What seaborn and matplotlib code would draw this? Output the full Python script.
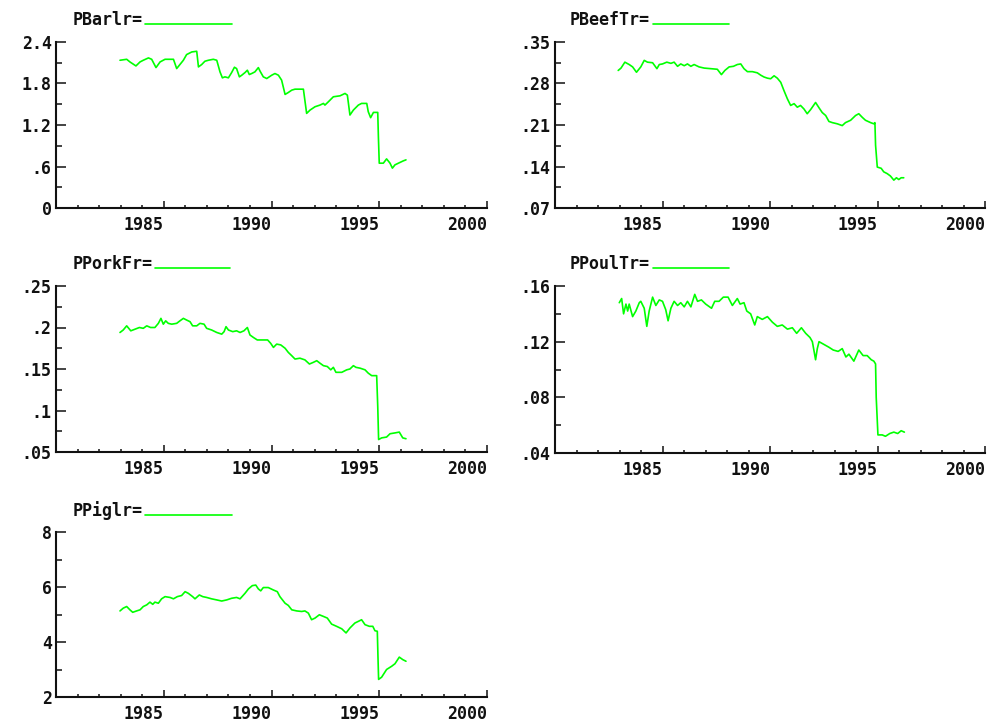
import matplotlib
matplotlib.use("Agg")
import matplotlib.pyplot as plt
import matplotlib.transforms as mtransforms
from matplotlib.ticker import MultipleLocator, FixedLocator
import seaborn as sns
import pandas as pd

# ---------------- data ----------------
barl_year = [1982.97, 1983.28, 1983.43, 1983.71, 1983.90, 1984.05, 1984.29, 1984.44, 1984.64, 1984.83,
             1985.06, 1985.45, 1985.52, 1985.60, 1985.75, 1985.91, 1986.06, 1986.30, 1986.53, 1986.61,
             1986.76, 1986.91, 1987.07, 1987.30, 1987.46, 1987.61, 1987.72, 1987.84, 1988.00, 1988.15,
             1988.28, 1988.38, 1988.51, 1988.62, 1988.77, 1988.88, 1988.97, 1989.08, 1989.23, 1989.39,
             1989.47, 1989.62, 1989.78, 1990.01, 1990.16, 1990.32, 1990.47, 1990.63, 1990.78, 1990.94,
             1991.09, 1991.48, 1991.63, 1991.79, 1992.02, 1992.25, 1992.41, 1992.48, 1992.64, 1992.87,
             1993.18, 1993.41, 1993.52, 1993.64, 1993.80, 1994.03, 1994.18, 1994.42, 1994.49, 1994.60,
             1994.73, 1994.93, 1994.96, 1995.00, 1995.19, 1995.34, 1995.50, 1995.61, 1995.73, 1995.89,
             1996.12, 1996.24]
barl_val = [2.136, 2.150, 2.112, 2.054, 2.112, 2.136, 2.170, 2.150, 2.030, 2.112,
            2.150, 2.150, 2.088, 2.016, 2.074, 2.136, 2.218, 2.256, 2.266, 2.040,
            2.074, 2.122, 2.136, 2.150, 2.136, 1.968, 1.882, 1.896, 1.882, 1.958,
            2.035, 2.016, 1.896, 1.920, 1.958, 1.992, 1.930, 1.944, 1.968, 2.030,
            1.978, 1.896, 1.872, 1.920, 1.944, 1.920, 1.848, 1.642, 1.670, 1.704,
            1.718, 1.718, 1.368, 1.416, 1.464, 1.488, 1.512, 1.488, 1.536, 1.608,
            1.622, 1.656, 1.632, 1.344, 1.416, 1.488, 1.512, 1.512, 1.392, 1.306,
            1.382, 1.382, 1.032, 0.648, 0.648, 0.710, 0.648, 0.576, 0.624, 0.648,
            0.682, 0.696]

beef_year = [1982.94, 1983.07, 1983.25, 1983.45, 1983.61, 1983.79, 1983.99, 1984.15, 1984.30, 1984.54,
             1984.74, 1984.85, 1985.00, 1985.20, 1985.39, 1985.54, 1985.70, 1985.85, 1986.01, 1986.16,
             1986.32, 1986.47, 1986.70, 1986.94, 1987.25, 1987.55, 1987.74, 1987.90, 1988.10, 1988.30,
             1988.48, 1988.64, 1988.79, 1988.95, 1989.18, 1989.41, 1989.57, 1989.72, 1989.88, 1990.03,
             1990.19, 1990.34, 1990.50, 1990.65, 1990.81, 1990.96, 1991.12, 1991.27, 1991.42, 1991.58,
             1991.73, 1991.89, 1992.12, 1992.28, 1992.43, 1992.59, 1992.74, 1992.90, 1993.13, 1993.36,
             1993.51, 1993.75, 1993.98, 1994.13, 1994.29, 1994.44, 1994.68, 1994.83, 1994.88, 1994.91,
             1994.99, 1995.17, 1995.29, 1995.45, 1995.60, 1995.76, 1995.88, 1995.99, 1996.10, 1996.22]
beef_val = [0.302, 0.306, 0.316, 0.312, 0.308, 0.299, 0.308, 0.319, 0.316, 0.315,
            0.305, 0.312, 0.313, 0.316, 0.314, 0.316, 0.309, 0.313, 0.310, 0.313,
            0.309, 0.312, 0.308, 0.306, 0.305, 0.304, 0.295, 0.302, 0.308, 0.309,
            0.312, 0.313, 0.305, 0.300, 0.300, 0.298, 0.294, 0.291, 0.289, 0.288,
            0.293, 0.289, 0.282, 0.268, 0.254, 0.243, 0.246, 0.240, 0.243, 0.237,
            0.229, 0.236, 0.248, 0.239, 0.231, 0.226, 0.216, 0.214, 0.212, 0.209,
            0.214, 0.218, 0.226, 0.229, 0.223, 0.218, 0.214, 0.212, 0.214, 0.176,
            0.139, 0.137, 0.131, 0.128, 0.124, 0.117, 0.121, 0.118, 0.121, 0.121]

pork_year = [1982.97, 1983.12, 1983.28, 1983.47, 1983.67, 1983.87, 1984.05, 1984.21, 1984.39, 1984.59,
             1984.75, 1984.87, 1984.98, 1985.09, 1985.21, 1985.37, 1985.60, 1985.75, 1985.91, 1986.06,
             1986.22, 1986.34, 1986.53, 1986.68, 1986.87, 1986.99, 1987.22, 1987.46, 1987.69, 1987.80,
             1987.89, 1988.00, 1988.20, 1988.38, 1988.54, 1988.72, 1988.88, 1989.00, 1989.16, 1989.34,
             1989.59, 1989.82, 1989.96, 1990.09, 1990.24, 1990.43, 1990.63, 1990.78, 1990.94, 1991.09,
             1991.32, 1991.55, 1991.76, 1991.94, 1992.10, 1992.25, 1992.41, 1992.59, 1992.75, 1992.87,
             1992.99, 1993.26, 1993.49, 1993.64, 1993.80, 1993.92, 1994.11, 1994.34, 1994.49, 1994.65,
             1994.88, 1994.93, 1994.97, 1995.11, 1995.34, 1995.50, 1995.73, 1995.93, 1996.09, 1996.24]
pork_val = [0.194, 0.197, 0.202, 0.196, 0.198, 0.200, 0.199, 0.202, 0.200, 0.200,
            0.205, 0.211, 0.204, 0.208, 0.205, 0.204, 0.205, 0.208, 0.211, 0.209,
            0.207, 0.202, 0.202, 0.205, 0.204, 0.199, 0.197, 0.194, 0.192, 0.195,
            0.201, 0.197, 0.195, 0.196, 0.194, 0.196, 0.200, 0.191, 0.188, 0.185,
            0.185, 0.185, 0.181, 0.176, 0.180, 0.179, 0.175, 0.170, 0.166, 0.162,
            0.163, 0.161, 0.156, 0.158, 0.160, 0.157, 0.154, 0.153, 0.149, 0.152,
            0.146, 0.146, 0.149, 0.150, 0.154, 0.152, 0.151, 0.149, 0.145, 0.142,
            0.142, 0.105, 0.065, 0.067, 0.068, 0.072, 0.073, 0.074, 0.067, 0.066]

poul_year = [1982.99, 1983.10, 1983.19, 1983.30, 1983.38, 1983.45, 1983.61, 1983.76, 1983.92, 1983.99,
             1984.15, 1984.27, 1984.38, 1984.54, 1984.69, 1984.85, 1985.00, 1985.15, 1985.26, 1985.39,
             1985.54, 1985.70, 1985.85, 1986.01, 1986.16, 1986.32, 1986.50, 1986.63, 1986.81, 1987.01,
             1987.28, 1987.43, 1987.63, 1987.83, 1988.05, 1988.25, 1988.48, 1988.61, 1988.79, 1988.92,
             1989.10, 1989.29, 1989.41, 1989.64, 1989.88, 1990.11, 1990.34, 1990.57, 1990.81, 1991.04,
             1991.24, 1991.46, 1991.66, 1991.86, 1991.97, 1992.04, 1992.12, 1992.20, 1992.28, 1992.51,
             1992.74, 1992.94, 1993.17, 1993.36, 1993.53, 1993.67, 1993.90, 1994.13, 1994.33, 1994.52,
             1994.71, 1994.83, 1994.91, 1994.94, 1995.02, 1995.22, 1995.37, 1995.57, 1995.76, 1995.94,
             1996.10, 1996.25]
poul_val = [0.148, 0.151, 0.140, 0.147, 0.142, 0.147, 0.138, 0.142, 0.148, 0.149,
            0.144, 0.131, 0.142, 0.152, 0.146, 0.150, 0.149, 0.143, 0.135, 0.144,
            0.149, 0.146, 0.148, 0.145, 0.149, 0.145, 0.154, 0.149, 0.150, 0.147,
            0.144, 0.149, 0.149, 0.152, 0.152, 0.146, 0.151, 0.147, 0.148, 0.142,
            0.140, 0.132, 0.138, 0.136, 0.138, 0.134, 0.131, 0.132, 0.129, 0.130,
            0.126, 0.130, 0.126, 0.123, 0.120, 0.114, 0.107, 0.115, 0.120, 0.118,
            0.116, 0.114, 0.113, 0.115, 0.109, 0.111, 0.106, 0.114, 0.110, 0.110,
            0.107, 0.106, 0.104, 0.080, 0.053, 0.053, 0.052, 0.054, 0.055, 0.054,
            0.056, 0.055]

pig_year = [1982.97, 1983.12, 1983.28, 1983.43, 1983.56, 1983.74, 1983.90, 1984.05, 1984.21, 1984.36,
            1984.49, 1984.59, 1984.75, 1984.90, 1985.06, 1985.29, 1985.45, 1985.63, 1985.83, 1985.99,
            1986.14, 1986.34, 1986.45, 1986.65, 1986.81, 1986.99, 1987.22, 1987.46, 1987.69, 1987.92,
            1988.15, 1988.38, 1988.54, 1988.77, 1988.93, 1989.11, 1989.27, 1989.39, 1989.50, 1989.62,
            1989.85, 1990.09, 1990.27, 1990.39, 1990.63, 1990.78, 1990.94, 1991.17, 1991.40, 1991.55,
            1991.71, 1991.86, 1992.02, 1992.22, 1992.41, 1992.59, 1992.79, 1993.02, 1993.26, 1993.46,
            1993.64, 1993.87, 1994.08, 1994.18, 1994.34, 1994.54, 1994.70, 1994.80, 1994.91, 1994.94,
            1994.97, 1995.11, 1995.34, 1995.58, 1995.73, 1995.93, 1996.09, 1996.24]
pig_val = [5.13, 5.23, 5.29, 5.17, 5.08, 5.13, 5.17, 5.29, 5.35, 5.45,
           5.37, 5.45, 5.41, 5.57, 5.65, 5.62, 5.57, 5.65, 5.69, 5.83,
           5.77, 5.65, 5.57, 5.71, 5.65, 5.62, 5.57, 5.53, 5.49, 5.53,
           5.59, 5.62, 5.57, 5.77, 5.93, 6.05, 6.07, 5.93, 5.86, 5.98,
           5.98, 5.89, 5.83, 5.65, 5.41, 5.33, 5.17, 5.13, 5.11, 5.13,
           5.05, 4.81, 4.87, 4.99, 4.93, 4.87, 4.65, 4.57, 4.48, 4.33,
           4.51, 4.69, 4.77, 4.81, 4.63, 4.57, 4.57, 4.41, 4.39, 3.48,
           2.64, 2.72, 3.00, 3.12, 3.21, 3.45, 3.36, 3.30]

series_names = ["PBarlr=", "PBeefTr=", "PPorkFr=", "PPoulTr=", "PPiglr="]

x_ticks = [1985, 1990, 1995, 2000]
x_ticklabels = ["1985", "1990", "1995", "2000"]

barl_yticks = [0, 0.6, 1.2, 1.8, 2.4]
barl_ylabels = ["0", ".6", "1.2", "1.8", "2.4"]
beef_yticks = [0.07, 0.14, 0.21, 0.28, 0.35]
beef_ylabels = [".07", ".14", ".21", ".28", ".35"]
pork_yticks = [0.05, 0.10, 0.15, 0.20, 0.25]
pork_ylabels = [".05", ".1", ".15", ".2", ".25"]
poul_yticks = [0.04, 0.08, 0.12, 0.16]
poul_ylabels = [".04", ".08", ".12", ".16"]
pig_yticks = [2, 4, 6, 8]
pig_ylabels = ["2", "4", "6", "8"]

# ---------------- style ----------------
sns.set_style("ticks")
plt.rcParams["font.family"] = ["DejaVu Sans Mono", "DejaVu Sans"]
plt.rcParams["font.weight"] = "bold"

GREEN = "#00ff00"
INK = "#111111"
FS = 12
W, H = 993, 722

fig = plt.figure(figsize=(W / 100, H / 100), dpi=100)


def rect(left, top, right, bottom):
    return [left / W, 1 - bottom / H, (right - left) / W, (bottom - top) / H]


panels = [
    (series_names[0], barl_year, barl_val, rect(56, 42, 487, 208), barl_yticks, barl_ylabels, 0.039, 5.2),
    (series_names[1], beef_year, beef_val, rect(555, 42, 985, 208), beef_yticks, beef_ylabels, 0.035, 4.6),
    (series_names[2], pork_year, pork_val, rect(56, 286, 487, 452), pork_yticks, pork_ylabels, 0.039, 4.5),
    (series_names[3], poul_year, poul_val, rect(555, 286, 985, 453), poul_yticks, poul_ylabels, 0.035, 4.6),
    (series_names[4], pig_year, pig_val, rect(56, 532, 487, 697), pig_yticks, pig_ylabels, 0.039, 5.2),
]

for name, xs, ys, r, yt, yl, lx, hl in panels:
    ax = fig.add_axes(r)
    df = pd.DataFrame({"year": xs, "value": ys})
    sns.lineplot(data=df, x="year", y="value", ax=ax, color=GREEN,
                 linewidth=1.2, estimator=None, sort=False, label=name)
    ax.set_xlim(1980, 2000)
    ax.set_ylim(yt[0], yt[-1])
    ax.set_xlabel("")
    ax.set_ylabel("")
    ax.set_facecolor("white")
    for s in ("top", "right"):
        ax.spines[s].set_visible(False)
    for s in ("left", "bottom"):
        ax.spines[s].set_linewidth(1.5)
        ax.spines[s].set_color(INK)

    ax.set_xticks(x_ticks)
    ax.set_xticklabels(x_ticklabels, fontsize=FS, fontweight="bold")
    ax.xaxis.set_minor_locator(MultipleLocator(1))
    ax.set_yticks(yt)
    ax.set_yticklabels(yl, fontsize=FS, fontweight="bold")
    step = yt[1] - yt[0]
    ax.yaxis.set_minor_locator(FixedLocator([v + step / 2 for v in yt[:-1]]))

    ax.tick_params(axis="x", which="major", direction="in", length=5, width=1.1,
                   color=INK, pad=6, labelcolor=INK)
    ax.tick_params(axis="x", which="minor", direction="in", length=2.5, width=1.1,
                   color=INK)
    ax.tick_params(axis="y", which="major", direction="in", length=7, width=1.1,
                   color=INK, pad=3, labelcolor=INK)
    ax.tick_params(axis="y", which="minor", direction="in", length=4.3, width=1.1,
                   color=INK)

    off = mtransforms.ScaledTranslation(-0.20, 0, fig.dpi_scale_trans)
    for lab in ax.get_xticklabels():
        lab.set_transform(lab.get_transform() + off)

    leg = ax.legend(loc="center left", bbox_to_anchor=(lx, 1.13), markerfirst=False,
                    frameon=False, handlelength=hl, handletextpad=0.15,
                    borderpad=0, borderaxespad=0,
                    prop={"family": "DejaVu Sans Mono", "weight": "bold", "size": FS})
    for t in leg.get_texts():
        t.set_color(INK)
    # the key line sits on the text baseline in the reference
    for ln in leg.get_lines():
        ln.set_ydata([v - 3.5 for v in ln.get_ydata()])

fig.savefig("out.png", dpi=100, facecolor="white")
